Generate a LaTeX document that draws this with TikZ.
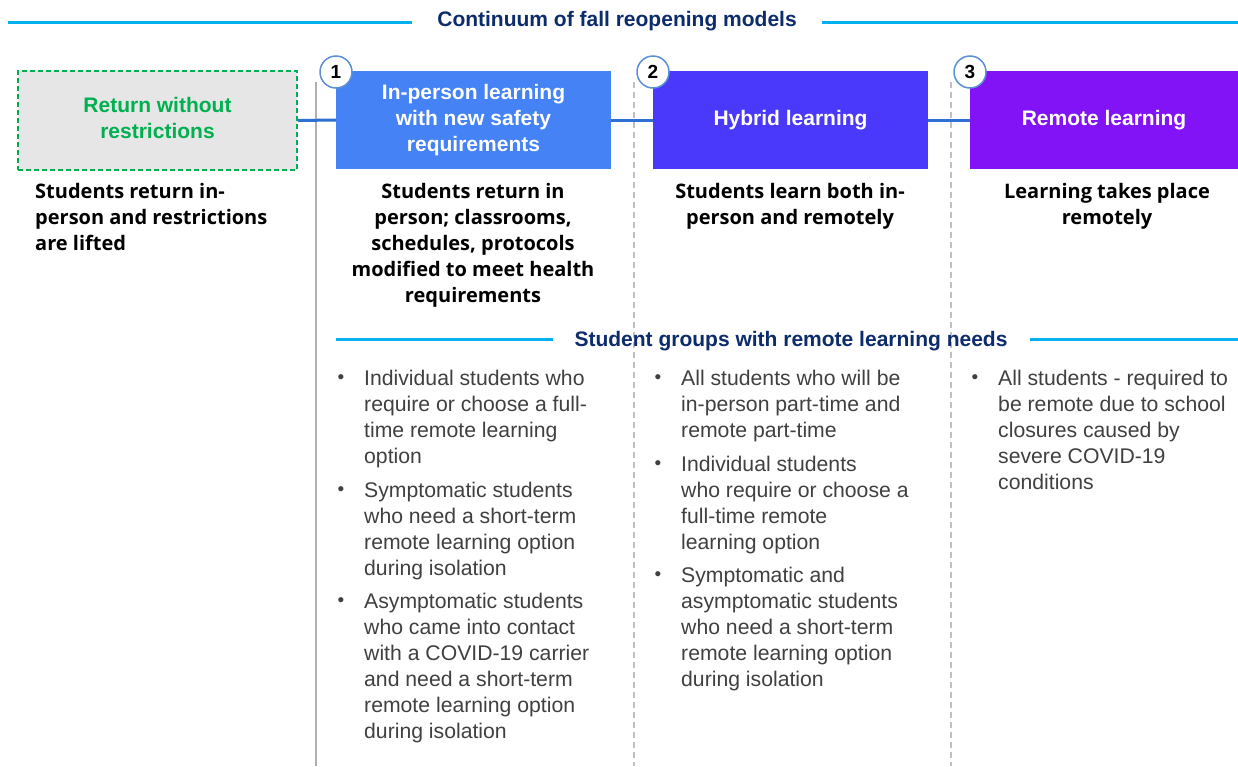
\documentclass[tikz,border=0pt]{standalone}
\usepackage{fontspec}
\setmainfont{Liberation Sans}
\newfontfamily\descfont{Open Sans}
\definecolor{cyanline}{HTML}{00B0F0}
\definecolor{navy}{HTML}{0C2C6B}
\definecolor{grn}{HTML}{00B050}
\definecolor{boxgray}{HTML}{E7E6E6}
\definecolor{cA}{HTML}{4482F5}
\definecolor{cB}{HTML}{4B39FB}
\definecolor{cC}{HTML}{8213F6}
\definecolor{conn}{HTML}{2F6FD3}
\definecolor{circ}{HTML}{5B8FD6}
\definecolor{txtgray}{HTML}{404040}
\definecolor{sepgray}{HTML}{B0B0B0}
\begin{document}
\begin{tikzpicture}[x=1pt,y=-1pt,
  hdr/.style={font=\fontsize{21}{26}\selectfont\bfseries, text=navy, inner sep=0pt},
  hline/.style={draw=cyanline, line width=3pt},
  model/.style={rectangle, minimum height=98pt, inner sep=0pt, align=center,
     font=\fontsize{21}{26}\selectfont\bfseries, text=white},
  numc/.style={circle, draw=circ, fill=white, line width=1.5pt, minimum size=32pt,
     inner sep=0pt, font=\fontsize{19}{19}\selectfont\bfseries, text=black},
  desc/.style={font=\descfont\fontsize{20}{26}\selectfont\bfseries, text=black, inner sep=0pt, align=center, anchor=base},
  item/.style={font=\fontsize{21.2}{26}\selectfont, text=txtgray, align=left, anchor=base west, inner sep=0pt},
  bul/.style={font=\fontsize{19}{19}\selectfont, text=txtgray, inner sep=0pt, anchor=center},
  conline/.style={draw=conn, line width=3pt},
  solidsep/.style={draw=sepgray, line width=1.5pt},
  dashsep/.style={draw=sepgray!80, line width=1.2pt, dash pattern=on 6pt off 4pt}
]
\useasboundingbox (0,0) rectangle (1238,766);
\fill[white] (0,0) rectangle (1238,766);

% title
\node[hdr] (title) at (617,21) {Continuum of fall reopening models};
\coordinate (tl1) at (8,22);   \coordinate (tl2) at (412,22);
\coordinate (tr1) at (822,22); \coordinate (tr2) at (1238,22);
\draw[hline] (tl1) -- (tl2);
\draw[hline] (tr1) -- (tr2);

% separators
\coordinate (s1t) at (316,82); \coordinate (s1b) at (316,766);
\coordinate (s2t) at (634,82); \coordinate (s2b) at (634,766);
\coordinate (s3t) at (951,82); \coordinate (s3b) at (951,766);
\draw[solidsep] (s1t) -- (s1b);
\draw[dashsep] (s2t) -- (s2b);
\draw[dashsep] (s3t) -- (s3b);

% boxes
\node[model, minimum width=279pt, minimum height=99pt, fill=boxgray, draw=grn, line width=1.6pt,
      dash pattern=on 5pt off 3pt, text=grn] (b0) at (157.5,120.5) {Return without\\restrictions\\[-20pt]};
\node[model, minimum width=275pt, fill=cA] (b1) at (473.5,120) {In-person learning\\with new safety\\requirements};
\node[model, minimum width=275pt, fill=cB] (b2) at (790.5,120) {Hybrid learning};
\node[model, minimum width=268pt, fill=cC] (b3) at (1104,120) {Remote learning};

\draw[conline] (b0.east) -- (b1.west);
\draw[conline] (b1.east) -- (b2.west);
\draw[conline] (b2.east) -- (b3.west);

\node[numc] (n1) at (336,72) {1};
\node[numc] (n2) at (653,72) {2};
\node[numc] (n3) at (970,72) {3};

% descriptions (anchor = baseline of last line)
\node[desc, align=left, anchor=base west] (d0) at (35,250) {Students return in-\\person and restrictions\\are lifted};
\node[desc] (d1) at (473,302) {Students return in\\person; classrooms,\\schedules, protocols\\modified to meet health\\requirements};
\node[desc] (d2) at (790,224) {Students learn both in-\\person and remotely};
\node[desc] (d3) at (1107,224) {Learning takes place\\remotely};

% second header
\node[hdr] (sub) at (791,341) {Student groups with remote learning needs};
\coordinate (sl1) at (336,339);  \coordinate (sl2) at (553,339);
\coordinate (sr1) at (1030,339); \coordinate (sr2) at (1238,339);
\draw[hline] (sl1) -- (sl2);
\draw[hline] (sr1) -- (sr2);

% column 1 bullets
\node[bul] (p11) at (341,379) {•};
\node[item] (i11) at (364,463) {Individual students who\\require or choose a full-\\time remote learning\\option};
\node[bul] (p12) at (341,491) {•};
\node[item] (i12) at (364,575) {Symptomatic students\\who need a short-term\\remote learning option\\during isolation};
\node[bul] (p13) at (341,602) {•};
\node[item] (i13) at (364,738) {Asymptomatic students\\who came into contact\\with a COVID-19 carrier\\and need a short-term\\remote learning option\\during isolation};

% column 2 bullets
\node[bul] (p21) at (658,379) {•};
\node[item] (i21) at (681,437) {All students who will be\\in-person part-time and\\remote part-time};
\node[bul] (p22) at (658,465) {•};
\node[item] (i22) at (681,549) {Individual students\\who require or choose a\\full-time remote\\learning option};
\node[bul] (p23) at (658,576) {•};
\node[item] (i23) at (681,686) {Symptomatic and\\asymptomatic students\\who need a short-term\\remote learning option\\during isolation};

% column 3 bullets
\node[bul] (p31) at (975,379) {•};
\node[item] (i31) at (998,489) {All students - required to\\be remote due to school\\closures caused by\\severe COVID-19\\conditions};
\end{tikzpicture}
\end{document}
